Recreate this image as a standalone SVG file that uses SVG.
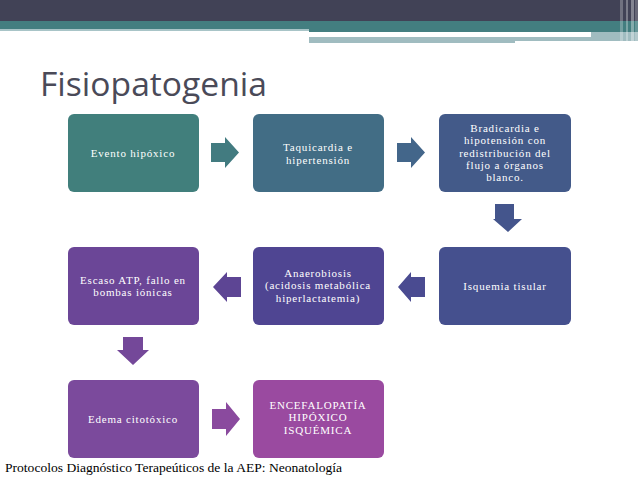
<svg xmlns="http://www.w3.org/2000/svg" width="638" height="479" viewBox="0 0 638 479">
<style>
.t{font-family:"Liberation Serif","DejaVu Serif",serif;font-size:11px;fill:#ffffff;text-anchor:middle;letter-spacing:0.8px}
.title{font-family:"Open Sans","Noto Sans",sans-serif;font-size:32px;fill:#4a4a58}
.foot{font-family:"Liberation Serif","DejaVu Serif",serif;font-size:12px;fill:#000000}
</style>
<rect width="638" height="479" fill="#ffffff"/>
<g id="header">
<rect x="0" y="0" width="638" height="21" fill="#414256"/>
<rect x="0" y="21" width="638" height="8" fill="#437e80"/>
<rect x="0" y="29" width="309" height="2" fill="#a8c4c7"/>
<rect x="309" y="29" width="329" height="3" fill="#437e80"/>
<rect x="591" y="32" width="47" height="9" fill="#a0bcc0"/>
<rect x="309" y="33" width="282" height="3" fill="#ffffff"/>
<rect x="309" y="37" width="206" height="6" fill="#a0bcc0"/>
<rect x="515" y="37" width="111" height="4" fill="#a0bcc0"/>
<rect x="620" y="0" width="3" height="43" fill="#ffffff" opacity="0.25"/>
<rect x="626" y="0" width="2" height="43" fill="#ffffff" opacity="0.3"/>
<rect x="631" y="0" width="3" height="43" fill="#ffffff" opacity="0.35"/>
<rect x="635" y="0" width="3" height="43" fill="#ffffff" opacity="0.2"/>
</g>
<text class="title" x="40" y="96" textLength="227" lengthAdjust="spacingAndGlyphs">Fisiopatogenia</text>
<g id="n1"><rect x="68" y="114" width="131" height="78" rx="6" fill="#417f7c"/><text class="t" x="133" y="157">Evento hipóxico</text></g>
<g id="n2"><rect x="253" y="114" width="131" height="78" rx="6" fill="#426d85"/><text class="t" x="318" y="151">Taquicardia e</text><text class="t" x="318" y="164">hipertensión</text></g>
<g id="n3"><rect x="439" y="114" width="132" height="78" rx="6" fill="#435a89"/><text class="t" x="505" y="132">Bradicardia e</text><text class="t" x="505" y="144.3">hipotensión con</text><text class="t" x="505" y="156.6">redistribución del</text><text class="t" x="505" y="168.9">flujo a órganos</text><text class="t" x="505" y="181.2">blanco.</text></g>
<g id="n4"><rect x="439" y="247" width="132" height="78" rx="6" fill="#45508e"/><text class="t" x="505" y="290">Isquemia tisular</text></g>
<g id="n5"><rect x="253" y="247" width="131" height="78" rx="6" fill="#4f4592"/><text class="t" x="318" y="277">Anaerobiosis</text><text class="t" x="318" y="289.3">(acidosis metabólica</text><text class="t" x="318" y="301.6">hiperlactatemia)</text></g>
<g id="n6"><rect x="68" y="247" width="131" height="78" rx="6" fill="#6b4697"/><text class="t" x="133" y="284">Escaso ATP, fallo en</text><text class="t" x="133" y="296.3">bombas iónicas</text></g>
<g id="n7"><rect x="68" y="380" width="131" height="78" rx="6" fill="#7b4a9c"/><text class="t" x="133" y="423">Edema citotóxico</text></g>
<g id="n8"><rect x="253" y="380" width="131" height="78" rx="6" fill="#9a4aa0"/><text class="t" x="318" y="409">ENCEFALOPATÍA</text><text class="t" x="318" y="421.3">HIPÓXICO</text><text class="t" x="318" y="433.6">ISQUÉMICA</text></g>
<g id="connectors">
<polygon points="211,143 225,143 225,137 239,152.5 225,168 225,162 211,162" fill="#427b80"/>
<polygon points="397,143 411,143 411,137 425,152.5 411,168 411,162 397,162" fill="#43668a"/>
<polygon points="495,204 514,204 514,219 522,219 508,232 493,219 495,219" fill="#44558c"/>
<polygon points="425,277 411,277 411,272 398,287 411,302 411,297 425,297" fill="#4a4b91"/>
<polygon points="241,277 227,277 227,272 213,287 227,302 227,297 241,297" fill="#5d4594"/>
<polygon points="123,337 143,337 143,350 149,350 133,365 117,350 123,350" fill="#744899"/>
<polygon points="212,409 226,409 226,402 240,419 226,436 226,429 212,429" fill="#8a4a9e"/>
</g>
<text class="foot" x="5" y="472" textLength="337" lengthAdjust="spacingAndGlyphs">Protocolos Diagnóstico Terapeúticos de la AEP: Neonatología</text>
</svg>
